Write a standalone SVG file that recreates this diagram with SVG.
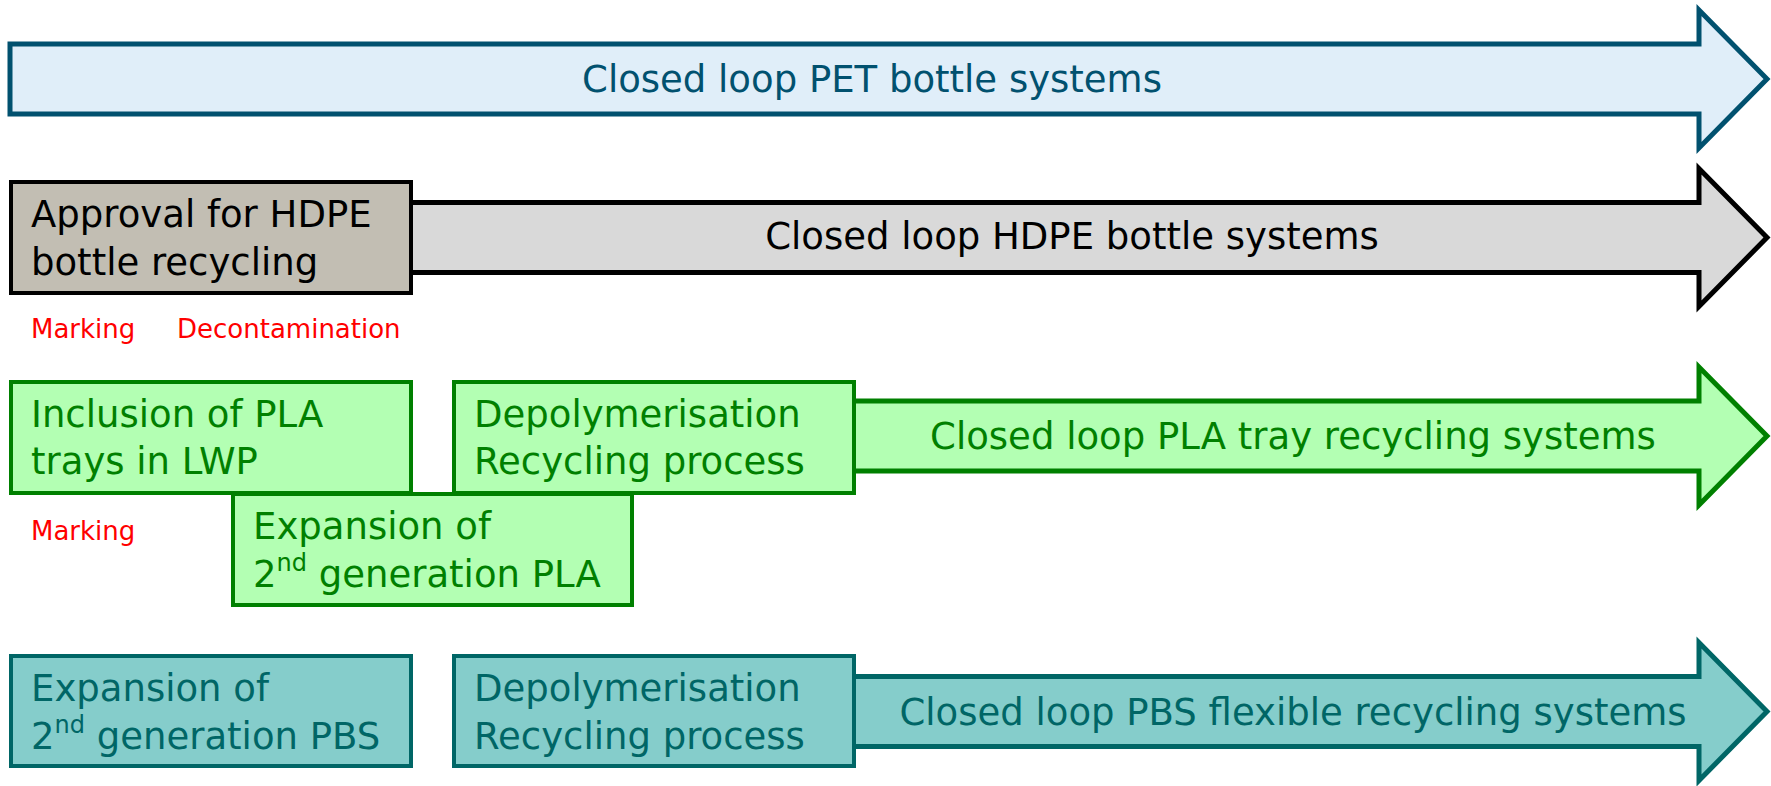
<svg xmlns="http://www.w3.org/2000/svg" width="1771" height="786" viewBox="0 0 1771 786">
<style>
text{font-family:"DejaVu Sans","Verdana",sans-serif;font-size:37px}
.arrow{stroke-width:5;stroke-linejoin:miter}
.box{stroke-width:4}
.mid{text-anchor:middle}
.red{fill:#FF0000;font-size:26px}
.pet{fill:#E0EEF9;stroke:#01516F}
.petT{fill:#01516F}
.hdpe{fill:#D9D9D9;stroke:#000000}
.hdpeBox{fill:#C2BEB3;stroke:#000000}
.blk{fill:#000000}
.pla{fill:#B3FFB3;stroke:#008000}
.plaT{fill:#008000}
.pbs{fill:#85CDCB;stroke:#006666}
.pbsT{fill:#006666}
.sup{font-size:24px}
</style>
<rect width="1771" height="786" fill="#FFFFFF"/>
<g id="connectors">
<polygon id="arrow-pet" class="arrow pet" points="10,44 1699,44 1699,10 1767,79 1699,148 1699,114 10,114"/>
<polygon id="arrow-hdpe" class="arrow hdpe" points="400,202.5 1699,202.5 1699,168.5 1767,237.5 1699,306.5 1699,272.5 400,272.5"/>
<polygon id="arrow-pla" class="arrow pla" points="840,401 1699,401 1699,367 1767,436 1699,505 1699,471 840,471"/>
<polygon id="arrow-pbs" class="arrow pbs" points="840,676.5 1699,676.5 1699,642.5 1767,711.5 1699,780.5 1699,746.5 840,746.5"/>
<text class="mid petT" x="872" y="92">Closed loop PET bottle systems</text>
<text class="mid blk" x="1072" y="249">Closed loop HDPE bottle systems</text>
<text class="mid plaT" x="1293" y="449">Closed loop PLA tray recycling systems</text>
<text class="mid pbsT" x="1293" y="725">Closed loop PBS flexible recycling systems</text>
</g>
<g id="node-hdpe-approval">
<rect class="box hdpeBox" x="11" y="182" width="400" height="111"/>
<text class="blk" x="31" y="227">Approval for HDPE</text>
<text class="blk" x="31" y="275">bottle recycling</text>
</g>
<g id="label-marking-1"><text class="red" x="31" y="338">Marking</text></g>
<g id="label-decontamination"><text class="red" x="177" y="338">Decontamination</text></g>
<g id="node-pla-inclusion">
<rect class="box pla" x="11" y="382" width="400" height="111"/>
<text class="plaT" x="31" y="427">Inclusion of PLA</text>
<text class="plaT" x="31" y="474">trays in LWP</text>
</g>
<g id="node-pla-depoly">
<rect class="box pla" x="454" y="382" width="400" height="111"/>
<text class="plaT" x="474" y="427">Depolymerisation</text>
<text class="plaT" x="474" y="474">Recycling process</text>
</g>
<g id="node-pla-expansion">
<rect class="box pla" x="233" y="494" width="399" height="111"/>
<text class="plaT" x="253" y="539">Expansion of</text>
<text class="plaT" x="253" y="587">2<tspan class="sup" dy="-16">nd</tspan><tspan dy="16"> generation PLA</tspan></text>
</g>
<g id="label-marking-2"><text class="red" x="31" y="540">Marking</text></g>
<g id="node-pbs-expansion">
<rect class="box pbs" x="11" y="656" width="400" height="110"/>
<text class="pbsT" x="31" y="701">Expansion of</text>
<text class="pbsT" x="31" y="749">2<tspan class="sup" dy="-16">nd</tspan><tspan dy="16"> generation PBS</tspan></text>
</g>
<g id="node-pbs-depoly">
<rect class="box pbs" x="454" y="656" width="400" height="110"/>
<text class="pbsT" x="474" y="701">Depolymerisation</text>
<text class="pbsT" x="474" y="749">Recycling process</text>
</g>
</svg>
